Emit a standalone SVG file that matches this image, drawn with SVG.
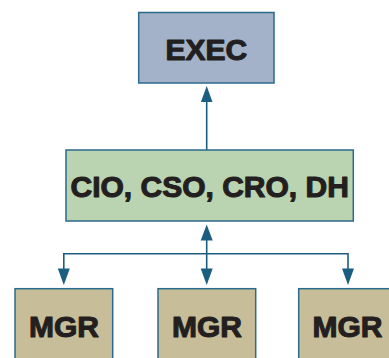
<svg xmlns="http://www.w3.org/2000/svg" width="389" height="358" viewBox="0 0 389 358">
<style>
.box{stroke:#2b6a8c;stroke-width:1.5}
.lbl{font-family:"Liberation Sans",Arial,sans-serif;font-weight:bold;font-size:30px;fill:#231f20;stroke:#231f20;stroke-width:1.1;stroke-linejoin:round;text-anchor:middle}
.conn{fill:none;stroke:#1b5e80;stroke-width:1.6}
.head{fill:#1b5e80}
</style>
<rect width="389" height="358" fill="#ffffff"/>
<g id="connectors">
<line class="conn" x1="206.7" y1="150" x2="206.7" y2="101"/>
<polygon class="head" points="206.7,86 212.5,102 200.9,102"/>
<line class="conn" x1="206.7" y1="239" x2="206.7" y2="270"/>
<polygon class="head" points="206.7,224.5 212.7,240.5 200.7,240.5"/>
<polygon class="head" points="206.7,285 212.7,268.5 200.7,268.5"/>
<polyline class="conn" points="63.8,270 63.8,253.7 348,253.7 348,270"/>
<polygon class="head" points="63.8,285 69.8,268.5 57.8,268.5"/>
<polygon class="head" points="348,285 354,268.5 342,268.5"/>
</g>
<g id="exec">
<rect class="box" x="138.7" y="12.5" width="135.3" height="70.5" fill="#a4b2c9"/>
<text class="lbl" x="206.3" y="59.5">EXEC</text>
</g>
<g id="cio">
<rect class="box" x="66" y="150" width="287.3" height="71" fill="#bad3b1"/>
<text class="lbl" x="209.7" y="196.5">CIO, CSO, CRO, DH</text>
</g>
<g id="mgr1">
<rect class="box" x="15" y="288.7" width="97.7" height="80" fill="#c8bd99"/>
<text class="lbl" x="64" y="336.5">MGR</text>
</g>
<g id="mgr2">
<rect class="box" x="158" y="288.7" width="97.7" height="80" fill="#c8bd99"/>
<text class="lbl" x="207" y="336.5">MGR</text>
</g>
<g id="mgr3">
<rect class="box" x="298.7" y="288.7" width="97.7" height="80" fill="#c8bd99"/>
<text class="lbl" x="347.5" y="336.5">MGR</text>
</g>
</svg>
